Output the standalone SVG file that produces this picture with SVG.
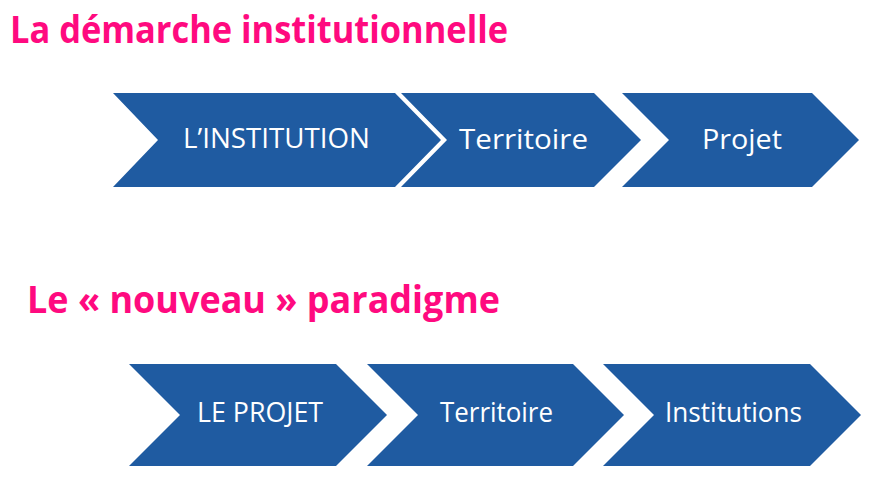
<svg xmlns="http://www.w3.org/2000/svg" width="891" height="484" viewBox="0 0 891 484">
<style>
.title{font-family:"Open Sans","Liberation Sans",sans-serif;font-weight:bold;font-size:37px;fill:#FF0A7F}
.chev{fill:#1F5BA1}
.lbl{font-family:"Open Sans","Liberation Sans",sans-serif;font-size:27px;fill:#FFFFFF}
</style>
<rect width="891" height="484" fill="#FFFFFF"/>
<text class="title" x="10" y="43" textLength="498" lengthAdjust="spacingAndGlyphs">La démarche institutionnelle</text>
<text class="title" x="27" y="313" textLength="473" lengthAdjust="spacingAndGlyphs">Le « nouveau »  paradigme</text>
<g id="top-institution">
<polygon class="chev" points="113,93 395,93 441,140 395,187 113,187 158,140"/>
<text class="lbl" x="183" y="148" textLength="187" lengthAdjust="spacingAndGlyphs">L’INSTITUTION</text>
</g>
<g id="top-territoire">
<polygon class="chev" points="401,93 594,93 641,140 594,187 401,187 447,140"/>
<text class="lbl" x="459" y="149" textLength="129" lengthAdjust="spacingAndGlyphs">Territoire</text>
</g>
<g id="top-projet">
<polygon class="chev" points="622,93 812,93 859,140 812,187 622,187 669,140"/>
<text class="lbl" x="702" y="149" textLength="80" lengthAdjust="spacingAndGlyphs">Projet</text>
</g>
<g id="bottom-projet">
<polygon class="chev" points="129,364 336,364 387,415 336,466 129,466 180,415"/>
<text class="lbl" x="197" y="422" textLength="126" lengthAdjust="spacingAndGlyphs">LE PROJET</text>
</g>
<g id="bottom-territoire">
<polygon class="chev" points="367,364 573,364 624,415 573,466 367,466 418,415"/>
<text class="lbl" x="440" y="422" textLength="113" lengthAdjust="spacingAndGlyphs">Territoire</text>
</g>
<g id="bottom-institutions">
<polygon class="chev" points="603,364 810,364 861,415 810,466 603,466 654,415"/>
<text class="lbl" x="665" y="422" textLength="137" lengthAdjust="spacingAndGlyphs">Institutions</text>
</g>
<g id="connectors"/>
</svg>
